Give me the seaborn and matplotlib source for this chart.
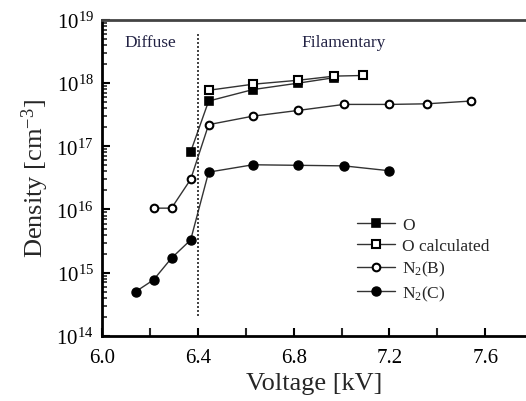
import matplotlib
matplotlib.use("Agg")
import matplotlib.pyplot as plt
import seaborn as sns
import pandas as pd
import numpy as np
from matplotlib.ticker import LogLocator, FixedLocator, MultipleLocator

sns.set_theme(style="ticks")
plt.rcParams['font.family'] = ['Liberation Serif', 'DejaVu Serif']
plt.rcParams['mathtext.fontset'] = 'custom'
plt.rcParams['mathtext.rm'] = 'Liberation Serif'
plt.rcParams['mathtext.it'] = 'Liberation Serif:italic'
plt.rcParams['mathtext.bf'] = 'Liberation Serif:bold'

# ---- data ----
o_v = [6.37, 6.445, 6.63, 6.82, 6.97]
o_d = [8.2e16, 5.2e17, 7.9e17, 1.0e18, 1.22e18]

ocalc_v = [6.445, 6.63, 6.82, 6.97, 7.09]
ocalc_d = [7.7e17, 9.6e17, 1.11e18, 1.29e18, 1.32e18]

n2b_v = [6.215, 6.29, 6.37, 6.445, 6.63, 6.82, 7.01, 7.20, 7.355, 7.54]
n2b_d = [1.05e16, 1.05e16, 3.0e16, 2.2e17, 3.0e17, 3.7e17, 4.6e17, 4.6e17, 4.7e17, 5.2e17]

n2c_v = [6.14, 6.215, 6.29, 6.37, 6.445, 6.63, 6.82, 7.01, 7.20]
n2c_d = [5.0e14, 7.7e14, 1.7e15, 3.3e15, 3.9e16, 5.1e16, 5.0e16, 4.9e16, 4.1e16]

labels = ["O", "O calculated", "N$_2$(B)", "N$_2$(C)"]
xticks = [6.0, 6.4, 6.8, 7.2, 7.6]
xtick_labels = ["6.0", "6.4", "6.8", "7.2", "7.6"]

fig = plt.figure(figsize=(5.26, 4.02), dpi=100)
ax = fig.add_axes([0.194, 0.162, 0.806, 0.786])

line_kw = dict(color="#333333", linewidth=1.0, markeredgecolor="black")

sns.lineplot(x=o_v, y=o_d, ax=ax, marker="s", markersize=6, markerfacecolor="black",
             markeredgewidth=1.2, label=labels[0], **line_kw)
sns.lineplot(x=ocalc_v, y=ocalc_d, ax=ax, marker="s", markersize=5.5, markerfacecolor="white",
             markeredgewidth=1.5, label=labels[1], **line_kw)
sns.lineplot(x=n2b_v, y=n2b_d, ax=ax, marker="o", markersize=5.5, markerfacecolor="white",
             markeredgewidth=1.5, label=labels[2], **line_kw)
sns.lineplot(x=n2c_v, y=n2c_d, ax=ax, marker="o", markersize=6.5, markerfacecolor="black",
             markeredgewidth=1.0, label=labels[3], **line_kw)

# divider
ax.plot([6.40, 6.40], [2.1e14, 6e18], linestyle=(0, (1.2, 1.2)), color="#222222", linewidth=1.2)

ax.set_yscale("log")
ax.set_ylim(1e14, 1e19)
ax.set_xlim(6.0, 7.77)
ax.xaxis.set_major_locator(FixedLocator(xticks))
ax.set_xticklabels(xtick_labels)
ax.xaxis.set_minor_locator(MultipleLocator(0.2))
ax.yaxis.set_major_locator(LogLocator(base=10, numticks=10))
ax.yaxis.set_minor_locator(LogLocator(base=10, subs=np.arange(2, 10), numticks=20))

ax.tick_params(axis="both", which="major", direction="in", length=6, width=1.5,
               labelsize=15, colors="black")
ax.tick_params(axis="x", which="major", pad=9)
ax.tick_params(axis="y", which="major", pad=6)
ax.tick_params(axis="both", which="minor", direction="in", length=3.5, width=1.2)
ax.tick_params(axis="x", which="minor", length=6, width=1.5)

for s in ["left", "bottom"]:
    ax.spines[s].set_linewidth(2.0)
    ax.spines[s].set_color("black")
ax.spines["top"].set_linewidth(2.0)
ax.spines["top"].set_color("#444444")
ax.spines["right"].set_visible(False)

ax.set_xlabel("Voltage [kV]", fontsize=19, labelpad=3)
ax.set_ylabel("Density [cm$^{-3}$]", fontsize=19, labelpad=4)

ax.text(6.2, 10**18.65, "Diffuse", fontsize=12.5, ha="center", va="center", color="#222244")
ax.text(7.01, 10**18.65, "Filamentary", fontsize=12.5, ha="center", va="center", color="#222244")

leg = ax.legend(loc="upper left", bbox_to_anchor=(0.585, 0.40), frameon=False, fontsize=12.5,
                handlelength=2.2, handletextpad=0.4, labelspacing=0.3, borderaxespad=0)

fig.savefig("out.png", dpi=100)
